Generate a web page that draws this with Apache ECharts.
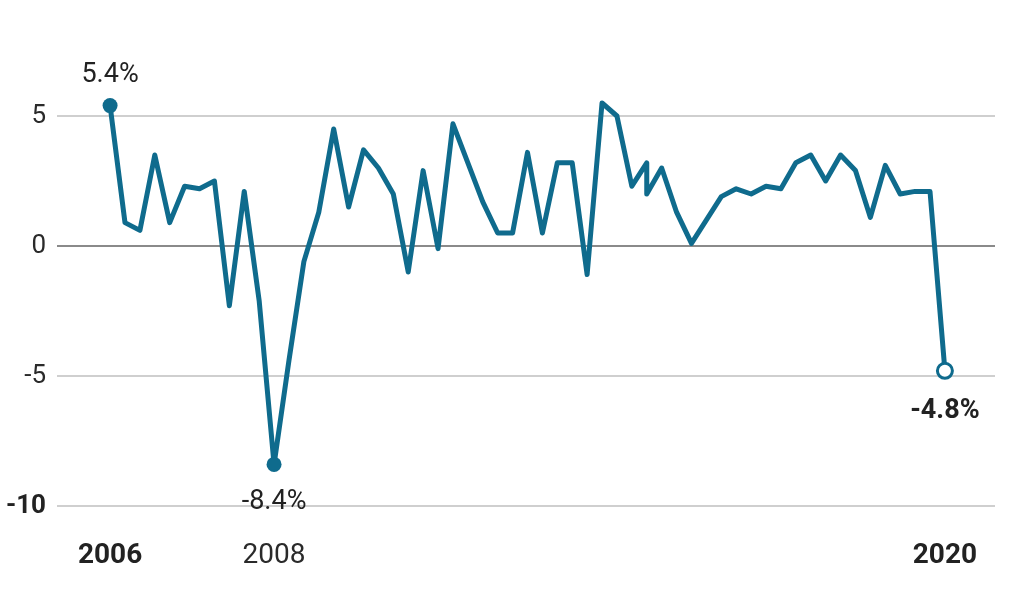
<!DOCTYPE html>
<html>
<head>
<meta charset="utf-8">
<script src="https://cdn.jsdelivr.net/npm/echarts@6/dist/echarts.min.js"></script>
<style>
html,body{margin:0;padding:0;background:#fff;}
#chart{width:1024px;height:614px;}
</style>
</head>
<body>
<div id="chart"></div>
<script>
// Quarterly GDP growth (annualized, %), as plotted in the reference
var quarters = [
  '2006Q1','2006Q2','2006Q3','2006Q4',
  '2007Q1','2007Q2','2007Q3','2007Q4',
  '2008Q1','2008Q2','2008Q3','2008Q4',
  '2009Q1','2009Q2','2009Q3','2009Q4',
  '2010Q1','2010Q2','2010Q3','2010Q4',
  '2011Q1','2011Q2','2011Q3','2011Q4',
  '2012Q1','2012Q2','2012Q3','2012Q4',
  '2013Q1','2013Q2','2013Q3','2013Q4',
  '2014Q1','2014Q2','2014Q3','2014Q4',
  '2015Q1','2015Q1','2015Q2','2015Q3','2015Q4',
  '2016Q2','2016Q3','2016Q4',
  '2017Q1','2017Q2','2017Q3','2017Q4',
  '2018Q1','2018Q2','2018Q3','2018Q4',
  '2019Q1','2019Q2','2019Q3','2019Q4',
  '2020Q1'
];
var gdpGrowth = [
  5.4, 0.9, 0.6, 3.5,
  0.9, 2.3, 2.2, 2.5,
  -2.3, 2.1, -2.1, -8.4,
  -4.4, -0.6, 1.3, 4.5,
  1.5, 3.7, 3.0, 2.0,
  -1.0, 2.9, -0.1, 4.7,
  3.2, 1.7, 0.5, 0.5,
  3.6, 0.5, 3.2, 3.2,
  -1.1, 5.5, 5.0, 2.3,
  3.2, 2.0, 3.0, 1.3, 0.1,
  1.9, 2.2, 2.0,
  2.3, 2.2, 3.2, 3.5,
  2.5, 3.5, 2.9, 1.1,
  3.1, 2.0, 2.1, 2.1,
  -4.8
];
var xTickQuarters = ['2006Q1', '2008Q4', '2020Q1'];
var xTickLabels = ['2006', '2008', '2020'];
var xTickBold = [true, false, true];
var yTicks = [-10, -5, 0, 5];

var FONT = 'Roboto, "Liberation Sans", sans-serif';
var LINE = '#0f6b8d';
var TEXT = '#222';

function qToX(q) {
  var y = parseInt(q.slice(0, 4), 10);
  var n = parseInt(q.slice(5), 10);
  return y + (n - 1) / 4;
}

var lineData = quarters.map(function (q, i) { return [qToX(q), gdpGrowth[i]]; });

var firstIdx = 0, lastIdx = gdpGrowth.length - 1, minIdx = 0;
gdpGrowth.forEach(function (v, i) { if (v < gdpGrowth[minIdx]) minIdx = i; });

function pct(v) { return v.toFixed(1) + '%'; }

var highlights = [
  { value: lineData[firstIdx], itemStyle: { color: LINE, opacity: 1 },
    label: { show: true, position: 'top', distance: 9, formatter: pct(gdpGrowth[firstIdx]), fontWeight: 'normal' } },
  { value: lineData[minIdx], itemStyle: { color: LINE, opacity: 1 },
    label: { show: true, position: 'bottom', distance: 17, formatter: pct(gdpGrowth[minIdx]), fontWeight: 'normal' } },
  { value: lineData[lastIdx], itemStyle: { color: '#fff', borderColor: LINE, borderWidth: 3, opacity: 1 },
    label: { show: true, position: 'bottom', distance: 18, formatter: pct(gdpGrowth[lastIdx]), fontWeight: 'bold' } }
];

var xTickValues = xTickQuarters.map(qToX);

var chart = echarts.init(document.getElementById('chart'), null, { renderer: 'canvas' });
chart.setOption({
  backgroundColor: '#fff',
  animation: false,
  textStyle: { fontFamily: FONT },
  grid: { left: 57, right: 29, top: 116, bottom: 108, containLabel: false },
  xAxis: {
    type: 'value',
    min: 2005.11,
    max: 2020.84,
    axisLine: { show: false },
    axisTick: { show: false },
    splitLine: { show: false },
    axisLabel: {
      customValues: xTickValues,
      margin: 36,
      fontSize: 28,
      color: TEXT,
      fontFamily: FONT,
      formatter: function (v) {
        for (var i = 0; i < xTickValues.length; i++) {
          if (Math.abs(xTickValues[i] - v) < 1e-6) {
            return xTickBold[i] ? '{b|' + xTickLabels[i] + '}' : '{n|' + xTickLabels[i] + '}';
          }
        }
        return '';
      },
      rich: {
        b: { fontSize: 28, fontWeight: 'bold', color: TEXT, fontFamily: FONT },
        n: { fontSize: 28, fontWeight: 'normal', color: '#2a2a2a', fontFamily: FONT }
      }
    }
  },
  yAxis: {
    type: 'value',
    min: -10,
    max: 5,
    interval: 5,
    axisLine: { show: false },
    axisTick: { show: false },
    axisLabel: {
      margin: 11,
      fontSize: 26,
      color: TEXT,
      fontFamily: FONT,
      formatter: function (v) {
        return v === yTicks[0] ? '{b|' + v + '}' : '{n|' + v + '}';
      },
      rich: {
        b: { fontSize: 26, fontWeight: 'bold', color: TEXT, fontFamily: FONT },
        n: { fontSize: 26, fontWeight: 'normal', color: '#2a2a2a', fontFamily: FONT }
      }
    },
    splitLine: {
      show: true,
      lineStyle: { color: ['#cfcfcf', '#cfcfcf', '#8a8a8a', '#cfcfcf'], width: 2 }
    }
  },
  series: [
    {
      type: 'line',
      data: lineData,
      clip: false,
      symbol: 'none',
      lineStyle: { color: LINE, width: 5, join: 'round' },
      z: 3
    },
    {
      type: 'scatter',
      data: highlights,
      clip: false,
      symbol: 'circle',
      symbolSize: 15,
      z: 4,
      label: { color: TEXT, fontSize: 27, fontFamily: FONT }
    }
  ]
});
</script>
</body>
</html>
